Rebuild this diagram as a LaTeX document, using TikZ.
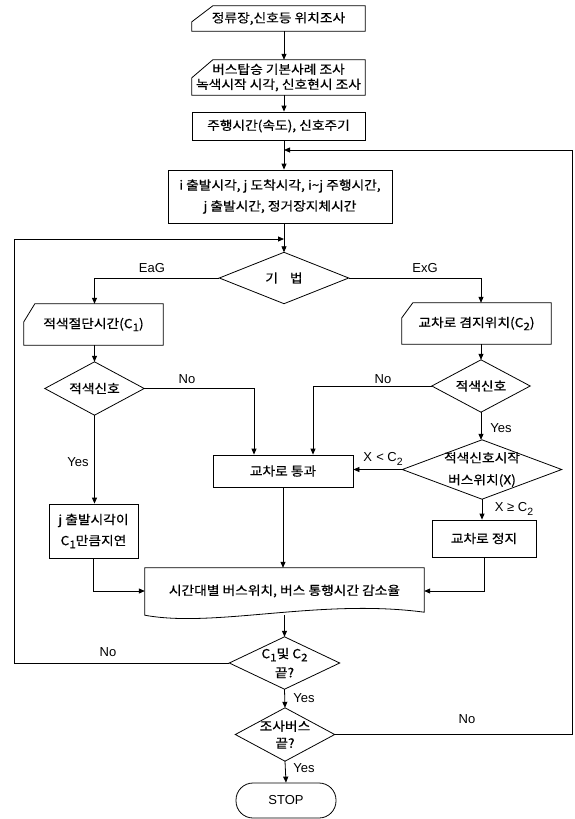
\documentclass[tikz,border=0pt]{standalone}
\usepackage{fontspec}
\setmainfont{Liberation Sans}
\newfontfamily\kr[FakeStretch=1.1,FakeBold=0.6]{Noto Sans CJK KR}
\usetikzlibrary{arrows.meta,calc}
\newcommand{\lowsub}[1]{\raisebox{-0.45ex}{\fontsize{10.5}{10.5}\selectfont #1}}
\newcommand{\dout}[1]{\draw[shapeline] (#1.north) -- (#1.east) -- (#1.south) -- (#1.west) -- cycle;}
\newcommand{\manin}[3]{\draw[shapeline] ([yshift=-#2pt]#1.north west) -- ([xshift=#3pt]#1.north west) -- (#1.north east) -- (#1.south east) -- (#1.south west) -- cycle;}
\begin{document}
\begin{tikzpicture}[x=1pt,y=-1pt,
  shapeline/.style={line width=0.8pt},
  arr/.style={line width=0.8pt,-{Triangle[length=6pt,width=5pt]}},
  txt/.style={rectangle,inner sep=0pt,align=center,font=\kr\fontsize{12.5}{15}\selectfont},
  rbox/.style={txt,draw,line width=0.8pt},
  lbl/.style={inner sep=0pt,font=\fontsize{13}{13}\selectfont},
]
\useasboundingbox (0,0) rectangle (575,819);
\coordinate (spine) at (284,0);
\coordinate (lj) at (284,239);
\coordinate (rj) at (284,150);
\coordinate (lfar) at (14,0);
\coordinate (rfar) at (572,0);
\coordinate (pl) at (254,0);
\coordinate (pr) at (313,0);

% nodes
\node[txt,minimum width=173,minimum height=25] (b1) at (278.5,18.5) {정류장,신호등 위치조사};
\manin{b1}{16}{21}
\node[txt,minimum width=173,minimum height=35] (b2) at (278.5,77.5) {버스탑승 기본사례 조사\\녹색시작 시각, 신호현시 조사};
\manin{b2}{18}{21}
\node[rbox,minimum width=173,minimum height=28] (b3) at (278.5,126) {주행시간(속도), 신호주기};
\node[rbox,minimum width=224,minimum height=53,font=\kr\fontsize{12.5}{21}\selectfont] (b4) at (280,196.5) {i 출발시각, j 도착시각, i\textasciitilde j 주행시간,\\j 출발시간, 정거장지체시간};
\node[txt,minimum width=129,minimum height=51] (d1) at (284,278) {기\hspace{12pt}법};
\dout{d1}
\node[txt,minimum width=139,minimum height=41] (c1) at (93.5,324.5) {적색절단시간(C\lowsub{1})};
\manin{c1}{18}{11}
\node[txt,minimum width=149,minimum height=41] (c2) at (476.5,323.5) {교차로 겸지위치(C\lowsub{2})};
\manin{c2}{15}{11}
\node[txt,minimum width=99,minimum height=53] (dl) at (94.5,388.5) {적색신호};
\dout{dl}
\node[txt,minimum width=98,minimum height=52] (dr) at (481,386) {적색신호};
\dout{dr}
\node[txt,minimum width=159,minimum height=59,font=\kr\fontsize{12.5}{22}\selectfont] (dx) at (482,469.5) {적색신호시작\\버스위치(X)};
\dout{dx}
\node[rbox,minimum width=140,minimum height=32] (bp) at (283,471) {교차로 통과};
\node[rbox,minimum width=104,minimum height=37] (bs) at (484,538.5) {교차로 정지};
\node[rbox,minimum width=89,minimum height=54,font=\kr\fontsize{12.5}{21}\selectfont] (bj) at (93.5,531) {j 출발시각이\\C\lowsub{1}만큼지연};
\node[txt,minimum width=279,minimum height=46] (doc) at (284.5,591) {시간대별 버스위치, 버스 통행시간 감소율};
\draw[shapeline] (doc.north west) -- (doc.north east) -- ($(doc.south east)+(0,-2)$) .. controls ($(doc.south west)+(175,-16)$) and ($(doc.south west)+(70,14)$) .. ($(doc.south west)+(0,1)$) -- cycle;
\node[txt,minimum width=110,minimum height=52,font=\kr\fontsize{12.5}{19}\selectfont] (dc) at (284.5,663) {C\lowsub{1}및 C\lowsub{2}\\끝?};
\dout{dc}
\node[txt,minimum width=99,minimum height=53,font=\kr\fontsize{12.5}{17}\selectfont] (de) at (285,734.5) {조사버스\\끝?};
\dout{de}
\node[txt,draw,line width=0.8pt,rounded corners=17pt,minimum width=100,minimum height=35,font=\fontsize{13}{13}\selectfont] (stop) at (286,800.5) {STOP};

% connectors
\draw[arr] (b1.south -| spine) -- (b2.north -| spine);
\draw[arr] (b2.south -| spine) -- (b3.north -| spine);
\draw[arr] (b3.south -| spine) -- (b4.north -| spine);
\draw[arr] (b4.south -| spine) -- (d1.north);
\draw[arr] (dc.west) -- (dc.west -| lfar) -- (lfar |- lj) -- (lj);
\draw[arr] (de.east) -- (de.east -| rfar) -- (rfar |- rj) -- (rj);
\draw[arr] (d1.west) -| (c1.north -| dl.north);
\draw[arr] (d1.east) -| (c2.north -| dr.north);
\draw[arr] (c1.south -| dl.north) -- (dl.north);
\draw[arr] (c2.south -| dr.north) -- (dr.north);
\draw[arr] (dl.east) -| (bp.north -| pl);
\draw[arr] (dl.south) -- (dl.south |- bj.north);
\draw[arr] (dr.west) -| (bp.north -| pr);
\draw[arr] (dr.south) -- (dr.south |- dx.north);
\draw[arr] (dx.west) -- (dx.west -| bp.east);
\draw[arr] (dx.south) -- (dx.south |- bs.north);
\draw[arr] (bp.south) -- (bp.south |- doc.north);
\draw[arr] (bj.south) |- (doc.west);
\draw[arr] (bs.south) |- (doc.east);
\draw[arr] ($(doc.south)+(0,1)$) -- (dc.north);
\draw[arr] (dc.south) -- (de.north);
\draw[arr] (de.south) -- (stop.north);

% labels
\node[lbl] (leag) at (152,268) {EaG};
\node[lbl] (lexg) at (425,268) {ExG};
\node[lbl] (lno1) at (187,379) {No};
\node[lbl] (lno2) at (383,379) {No};
\node[lbl] (lyes1) at (78,462) {Yes};
\node[lbl] (lyes2) at (501,428) {Yes};
\node[lbl] (lxlt) at (383,459) {X\,\,< C\lowsub{2}};
\node[lbl] (lxge) at (514,509) {X ≥ C\lowsub{2}};
\node[lbl] (lno3) at (108,652) {No};
\node[lbl] (lyes3) at (304,698) {Yes};
\node[lbl] (lno4) at (467,719) {No};
\node[lbl] (lyes4) at (304,768) {Yes};
\end{tikzpicture}
\end{document}
